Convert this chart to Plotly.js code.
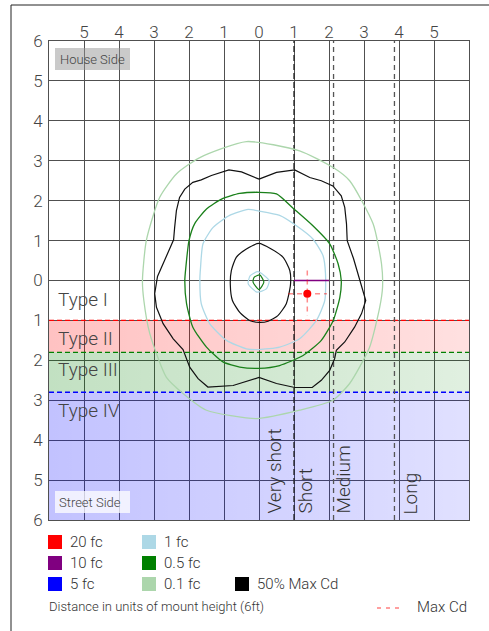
<!DOCTYPE html>
<html><head><meta charset="utf-8">
<script src="https://cdn.plot.ly/plotly-3.0.1.min.js"></script>
<style>html,body{margin:0;padding:0;background:#fff}#chart{width:489px;height:631px}</style>
</head><body><div id="chart"></div>
<script>
// ---------- data ----------
const tickVals = [-6,-5,-4,-3,-2,-1,0,1,2,3,4,5,6];
const xTickText = ['', '5','4','3','2','1','0','1','2','3','4','5',''];
const yTickText = ['6','5','4','3','2','1','0','1','2','3','4','5','6'];

const typeNames = ['Type I','Type II','Type III','Type IV'];
const typeLabelY = [-0.45,-1.42,-2.2,-3.22];
const bandTops = [-1,-1.8,-2.8];
const bandBottoms = [-1.8,-2.8,-6];
const bandRGB = ['255,0,0','0,128,0','0,0,255'];
const bandLine = ['#ff0000','#008000','#0000ff'];

const projX = [1, 2.13, 3.87];
const projNames = ['Very short','Short','Medium','Long'];
const projLabelAt = [1, 1, 2.13, 3.87];

// contours
const cd50OuterX = [0,0.5,1.02,1.45,1.78,2.11,2.35,2.45,2.5,2.52,2.7,2.88,3.05,2.93,2.73,2.45,2.21,2.16,2.02,1.78,1.52,1.02,0.5,0,-0.74,-1.46,-1.74,-1.98,-2.12,-2.17,-2.45,-2.74,-2.93,-2.98,-2.9,-2.69,-2.44,-2.41,-2.36,-2.27,-2.12,-1.89,-1.65,-1.36,-1.07,-0.86,-0.5,0];
const cd50OuterY = [2.54,2.71,2.77,2.58,2.5,2.37,2.12,1.83,1.42,1.0,0.55,0.0,-0.5,-0.83,-1.17,-1.54,-1.75,-1.96,-2.25,-2.5,-2.68,-2.68,-2.58,-2.43,-2.63,-2.67,-2.46,-2.17,-1.83,-1.73,-1.46,-1.08,-0.67,-0.33,0.1,0.5,1.02,1.33,1.75,2.08,2.29,2.46,2.52,2.63,2.71,2.77,2.72,2.54];
const cd50InnerX = [0,0.35,0.69,0.88,0.9,0.78,0.54,0.26,0,-0.27,-0.55,-0.76,-0.82,-0.79,-0.65,-0.36,0];
const cd50InnerY = [0.93,0.79,0.58,0.25,-0.1,-0.58,-0.88,-1.02,-1.05,-1.0,-0.8,-0.5,-0.1,0.25,0.58,0.79,0.93];
const fc05X = [0,0.5,1.0,1.54,2.02,2.26,2.35,2.31,2.12,1.78,1.26,0.59,0,-0.55,-1.03,-1.5,-1.89,-2.07,-2.12,-2.09,-2.0,-1.84,-1.5,-1.07,-0.55,0];
const fc05Y = [2.21,2.17,1.79,1.37,0.92,0.42,0,-0.42,-1.0,-1.5,-1.88,-2.13,-2.2,-2.17,-2.04,-1.67,-1.17,-0.58,0,0.33,1.0,1.42,1.79,2.04,2.18,2.21];
const fc05SmallX = [0.02,0.14,0,-0.17,-0.14,0.02];
const fc05SmallY = [0.14,-0.04,-0.23,-0.04,0.08,0.14];
const fc1X = [0,0.59,1.07,1.54,1.83,1.9,1.88,1.64,1.16,0.59,0,-0.36,-0.93,-1.41,-1.65,-1.69,-1.67,-1.6,-1.31,-0.84,-0.31,0];
const fc1Y = [1.74,1.63,1.37,1.04,0.62,0.17,-0.5,-1.0,-1.46,-1.67,-1.73,-1.71,-1.5,-1.08,-0.58,0,0.33,0.92,1.33,1.63,1.78,1.74];
const fc1SmallX = [-0.03,0.29,0.21,-0.06,-0.31,-0.25,-0.03];
const fc1SmallY = [0.22,0,-0.21,-0.29,-0.08,0.12,0.22];
const fc01X = [-0.36,1.16,2.12,2.59,3.26,3.5,3.53,3.45,3.16,2.59,2.11,1.16,-0.07,-1.5,-2.17,-2.65,-3.12,-3.29,-3.33,-3.22,-2.84,-2.36,-1.69,-0.36];
const fc01Y = [3.48,3.25,2.83,2.5,1.42,0.42,-0.17,-0.67,-1.67,-2.58,-3.0,-3.25,-3.46,-3.25,-2.83,-2.42,-1.33,-0.5,0,1.0,2.08,2.67,3.08,3.48];
const fc10X = [1, 2];
const fc10Y = [0, 0];

const maxCdX = [1.38];
const maxCdY = [-0.33];
const maxCdHX = [0.83, 1.94];
const maxCdVY = [0.25, -0.88];

const legendLabels = ['20 fc','10 fc','5 fc','1 fc','0.5 fc','0.1 fc','50% Max Cd'];
const legendColors = ['#ff0000','#800080','#0000ff','#add8e6','#008000','#acd6ac','#000000'];
const footText = 'Distance in units of mount height (6ft)';
const maxCdLabel = 'Max Cd';

// ---------- styling / layout ----------
const FONT = "Roboto, 'Liberation Sans', sans-serif";
const FW = 300;
const W = 489, H = 631, L = 49, R = 20, T = 41, B = 111;
const pw = W - L - R, ph = H - T - B;
const PX = px => (px - L) / pw;
const PY = py => (H - B - py) / ph;

const traces = [];
bandTops.forEach((top, i) => {
  const bot = bandBottoms[i];
  traces.push({type:'scatter', mode:'lines', x:[-6,6,6,-6,-6], y:[top,top,bot,bot,top],
    fill:'toself', line:{width:0}, hoverinfo:'skip', showlegend:false,
    fillgradient:{type:'horizontal', colorscale:[[0,`rgba(${bandRGB[i]},0.24)`],[1,`rgba(${bandRGB[i]},0.12)`]]}});
});
bandTops.forEach((top, i) => {
  traces.push({type:'scatter', mode:'lines', x:[-6,6], y:[top,top], hoverinfo:'skip', showlegend:false,
    line:{color:bandLine[i], width:1.3, dash:'5px,3px'}});
});
projX.forEach((v, i) => {
  traces.push({type:'scatter', mode:'lines', x:[v,v], y:[-6,6], hoverinfo:'skip', showlegend:false,
    line:{color: i === 0 ? '#222' : '#555', width:1.3, dash: i === 0 ? '6px,3px' : '5px,4px'}});
});
function contour(x, y, color, width, shape) {
  traces.push({type:'scatter', mode:'lines', x, y, hoverinfo:'skip', showlegend:false,
    line:{color, width, shape: shape || 'spline', smoothing: 0.6}});
}
contour(fc01X, fc01Y, '#acd6ac', 1.3);
contour(cd50OuterX, cd50OuterY, '#111', 1.2, 'linear');
contour(cd50InnerX, cd50InnerY, '#111', 1.2);
contour(fc05X, fc05Y, '#1a801a', 1.3);
contour(fc1X, fc1Y, '#add8e6', 1.3);
contour(fc1SmallX, fc1SmallY, '#add8e6', 1.2);
contour(fc05SmallX, fc05SmallY, '#1a801a', 1.2);
contour(fc10X, fc10Y, '#800080', 1.3, 'linear');
traces.push({type:'scatter', mode:'lines', x:maxCdHX, y:[maxCdY[0],maxCdY[0]], hoverinfo:'skip', showlegend:false,
  line:{color:'rgba(255,0,0,0.45)', width:1.5, dash:'5px,4px'}});
traces.push({type:'scatter', mode:'lines', x:[maxCdX[0],maxCdX[0]], y:maxCdVY, hoverinfo:'skip', showlegend:false,
  line:{color:'rgba(255,0,0,0.45)', width:1.5, dash:'5px,4px'}});
traces.push({type:'scatter', mode:'markers', x:maxCdX, y:maxCdY, hoverinfo:'skip', showlegend:false,
  marker:{color:'#ff0000', size:8}});

const shapes = [];
const annotations = [];
const F = (size, color) => ({family:FONT, size, color: color || '#333', weight:FW});
shapes.push({type:'line', xref:'paper', yref:'paper', x0:PX(11), x1:PX(495), y0:PY(5), y1:PY(5), line:{color:'#222', width:1}});
shapes.push({type:'line', xref:'paper', yref:'paper', x0:PX(11), x1:PX(11), y0:PY(5), y1:PY(640), line:{color:'#222', width:1}});
shapes.push({type:'rect', xref:'paper', yref:'paper', x0:PX(55), x1:PX(130), y0:PY(70), y1:PY(48), fillcolor:'rgba(150,150,150,0.5)', line:{width:0}});
annotations.push({xref:'paper', yref:'paper', x:PX(92), y:PY(59), text:'House Side', showarrow:false, xanchor:'center', yanchor:'middle', font:F(13,'#444')});
shapes.push({type:'rect', xref:'paper', yref:'paper', x0:PX(55), x1:PX(130), y0:PY(513), y1:PY(491), fillcolor:'rgba(255,255,255,0.75)', line:{width:0}});
annotations.push({xref:'paper', yref:'paper', x:PX(90), y:PY(502), text:'Street Side', showarrow:false, xanchor:'center', yanchor:'middle', font:F(13,'#444')});
typeNames.forEach((t, i) => {
  annotations.push({x:-5.8, y:typeLabelY[i], text:t, showarrow:false, xanchor:'left', yanchor:'middle', yshift:-1, font:F(19,'#444')});
});
const projShift = [-20, 11, 9, 16];
projNames.forEach((t, i) => {
  annotations.push({x:projLabelAt[i], y:-6, text:t, showarrow:false, textangle:-90, xanchor:'center', yanchor:'bottom',
    xshift:projShift[i], yshift:4, font:F(19,'#333')});
});
const colX = [48, 142, 235];
legendLabels.forEach((lab, i) => {
  const col = i < 3 ? 0 : (i < 6 ? 1 : 2);
  const row = i < 6 ? i % 3 : 2;
  const cy = 542 + row * 21;
  const x0 = colX[col];
  shapes.push({type:'rect', xref:'paper', yref:'paper', x0:PX(x0), x1:PX(x0+14), y0:PY(cy+7), y1:PY(cy-7), fillcolor:legendColors[i], line:{width:0}});
  annotations.push({xref:'paper', yref:'paper', x:PX(x0+20), y:PY(cy), text:lab, showarrow:false, xanchor:'left', yanchor:'middle', font:F(15)});
});
annotations.push({xref:'paper', yref:'paper', x:PX(47), y:PY(607), text:footText, showarrow:false, xanchor:'left', yanchor:'middle', font:F(13)});
shapes.push({type:'line', xref:'paper', yref:'paper', x0:PX(377), x1:PX(400), y0:PY(608), y1:PY(608), line:{color:'rgba(255,0,0,0.5)', width:1.5, dash:'4px,5px'}});
annotations.push({xref:'paper', yref:'paper', x:PX(469), y:PY(607), text:maxCdLabel, showarrow:false, xanchor:'right', yanchor:'middle', font:F(15)});

const axisCommon = {range:[-6,6], tickvals:tickVals, showgrid:true, gridcolor:'#505050', gridwidth:1,
  zeroline:false, showline:true, linecolor:'#505050', linewidth:1, mirror:true, ticks:'', fixedrange:true,
  tickfont:F(17,'#444'), automargin:false};

const layout = {
  width:W, height:H, margin:{l:L, r:R, t:T, b:B, pad:0},
  paper_bgcolor:'#fff', plot_bgcolor:'#fff', showlegend:false,
  xaxis:Object.assign({}, axisCommon, {side:'top', ticktext:xTickText, ticklabelstandoff:-5}),
  yaxis:Object.assign({}, axisCommon, {ticktext:yTickText, ticklabelstandoff:2}),
  shapes, annotations
};
Plotly.newPlot('chart', traces, layout, {staticPlot:true, displayModeBar:false});
</script></body></html>
